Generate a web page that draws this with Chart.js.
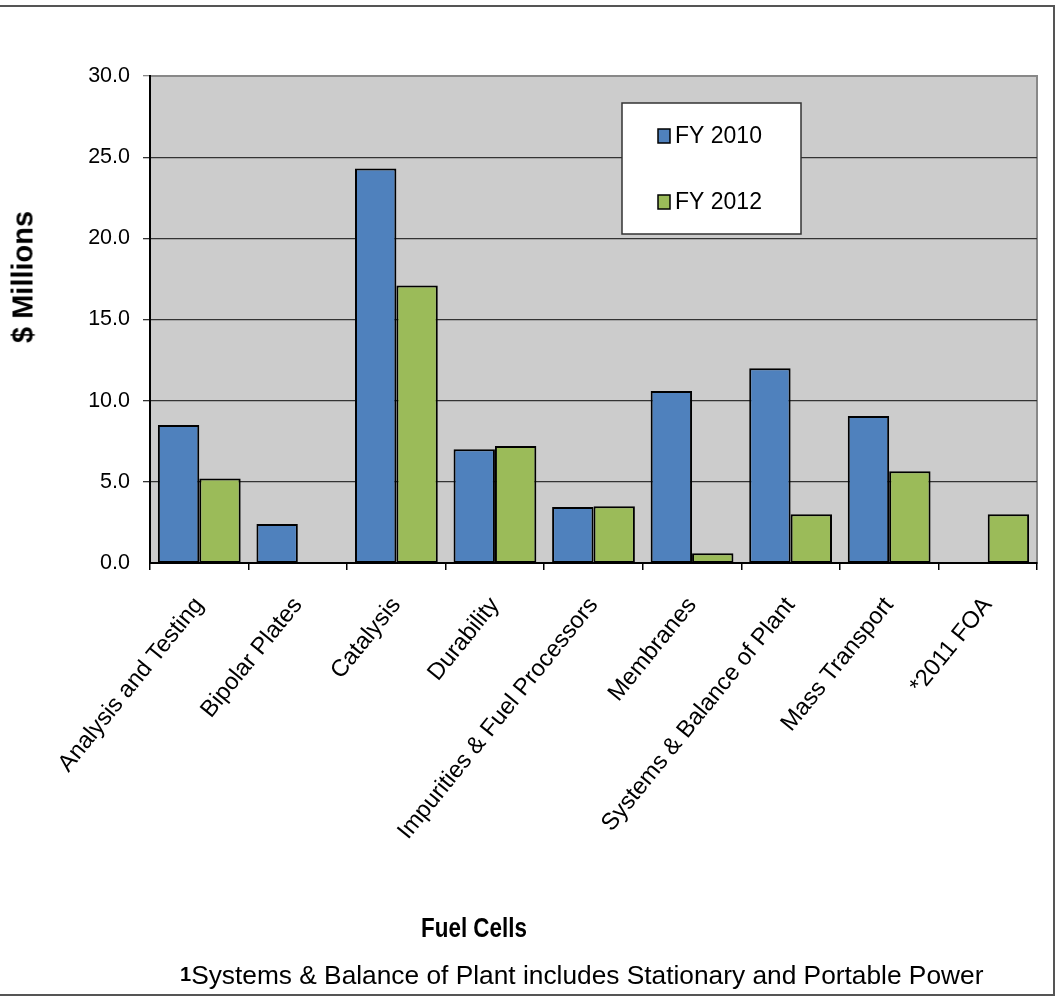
<!DOCTYPE html>
<html>
<head>
<meta charset="utf-8">
<script src="https://cdn.jsdelivr.net/npm/chart.js@4/dist/chart.umd.min.js"></script>
<style>
  html, body { margin: 0; padding: 0; background: #fff; overflow: hidden; }
  #stage {
    position: absolute; left: 0; top: 0; width: 1057px; height: 1000px;
    font-family: "Liberation Sans", Arial, sans-serif;
  }
  #frame {
    position: absolute; left: -4px; top: 5px; width: 1059px; height: 991px;
    border-top: 2px solid #555; border-right: 2px solid #555; border-bottom: 2px solid #555;
    box-sizing: border-box;
  }
  canvas { position: absolute; left: 0; top: 0; }
  .ytitle {
    position: absolute; left: 23px; top: 277px;
    transform: translate(-50%, -50%) rotate(-90deg);
    font-weight: bold; font-size: 29px; white-space: nowrap; color: #000;
  }
  /* condensed bold axis title */
  .xtitle {
    position: absolute; left: 474px; top: 928px;
    transform: translate(-50%, -50%) scaleX(0.83);
    font-weight: bold; font-size: 27px; white-space: nowrap; color: #000;
  }
  .note {
    position: absolute; left: 180px; top: 975px;
    transform: translateY(-50%);
    font-size: 26.3px; white-space: nowrap; color: #000;
  }
  .note b { font-size: 20px; vertical-align: 3px; }
</style>
</head>
<body>
<div id="stage">
  <div id="frame"></div>
  <canvas id="chart" width="1057" height="1000" style="width:1057px;height:1000px"></canvas>
  <div class="ytitle">$ Millions</div>
  <div class="xtitle">Fuel Cells</div>
  <div class="note"><b>1</b>Systems &amp; Balance of Plant includes Stationary and Portable Power</div>
</div>
<script>
// Fuel cell funding by topic ($ millions)
const categories = [
  'Analysis and Testing', 'Bipolar Plates', 'Catalysis', 'Durability',
  'Impurities & Fuel Processors', 'Membranes', 'Systems & Balance of Plant',
  'Mass Transport', '*2011 FOA'
];
const seriesNames = ['FY 2010', 'FY 2012'];
const fy2010 = [8.5, 2.4, 24.3, 7.0, 3.45, 10.6, 12.0, 9.05, null];
const fy2012 = [5.2, null, 17.1, 7.2, 3.5, 0.6, 3.0, 5.65, 3.0];
const yTicks = [0, 5, 10, 15, 20, 25, 30];

const colors = ['#4F81BD', '#9BBB59'];
const FONT = '"Liberation Sans", Arial, sans-serif';

// gray plot background with a thin frame
const plotBackground = {
  id: 'plotBackground',
  beforeDraw(chart) {
    const { ctx, chartArea: a } = chart;
    ctx.save();
    ctx.fillStyle = '#CCCCCC';
    ctx.fillRect(a.left, a.top, a.right - a.left, a.bottom - a.top);
    ctx.strokeStyle = '#888888';
    ctx.lineWidth = 2;
    ctx.strokeRect(a.left, a.top, a.right - a.left, a.bottom - a.top);
    ctx.restore();
  }
};

// boxed legend inside the plot area
const boxLegend = {
  id: 'boxLegend',
  afterDraw(chart, args, opts) {
    const { ctx } = chart;
    const { left, top, width, height, rowY, swatchX, swatchW, swatchH, textX, fontSize } = opts;
    ctx.save();
    ctx.fillStyle = '#FFFFFF';
    ctx.fillRect(left, top, width, height);
    ctx.strokeStyle = '#333333';
    ctx.lineWidth = 1.5;
    ctx.strokeRect(left, top, width, height);
    ctx.font = fontSize + 'px ' + FONT;
    ctx.textBaseline = 'middle';
    chart.data.datasets.forEach((ds, i) => {
      const y = top + rowY[i];
      ctx.fillStyle = ds.backgroundColor;
      ctx.fillRect(left + swatchX, y - swatchH / 2, swatchW, swatchH);
      ctx.strokeStyle = '#000';
      ctx.lineWidth = 1.5;
      ctx.strokeRect(left + swatchX, y - swatchH / 2, swatchW, swatchH);
      ctx.fillStyle = '#000';
      ctx.fillText(ds.label, left + textX, y + 1);
    });
    ctx.restore();
  }
};

new Chart(document.getElementById('chart'), {
  type: 'bar',
  data: {
    labels: categories,
    datasets: [
      { label: seriesNames[0], data: fy2010, backgroundColor: colors[0] },
      { label: seriesNames[1], data: fy2012, backgroundColor: colors[1] }
    ].map(d => Object.assign(d, {
      borderColor: '#000', borderWidth: 2, borderSkipped: false,
      categoryPercentage: 0.84, barPercentage: 1.0
    }))
  },
  options: {
    responsive: false,
    animation: false,
    layout: { padding: { left: 0, right: 20, top: 76, bottom: 0 } },
    plugins: {
      legend: { display: false },
      tooltip: { enabled: false },
      boxLegend: {
        left: 622, top: 103, width: 179, height: 131,
        rowY: [33, 99], swatchX: 36, swatchW: 12, swatchH: 14, textX: 53, fontSize: 23
      }
    },
    scales: {
      x: {
        grid: { offset: true, drawOnChartArea: false, drawTicks: true, tickLength: 7, color: '#000', lineWidth: 1.5 },
        border: { display: true, color: '#000', width: 2 },
        ticks: {
          autoSkip: false, minRotation: 51, maxRotation: 51, padding: 22,
          color: '#000', font: { family: FONT, size: 23.7 }
        },
        afterFit(scale) { scale.height = 437; }
      },
      y: {
        min: 0, max: 30,
        afterBuildTicks(scale) { scale.ticks = yTicks.map(v => ({ value: v })); },
        grid: {
          drawTicks: true, tickLength: 7,
          color: ctx => (ctx.tick && ctx.tick.value === 30 ? '#888888' : '#333333'),
          lineWidth: ctx => (ctx.tick && ctx.tick.value === 0 ? 0 : 1.3)
        },
        border: { display: true, color: '#000', width: 2 },
        ticks: {
          padding: 13, color: '#000',
          font: { family: FONT, size: 21.5 },
          callback: v => Number(v).toFixed(1)
        },
        afterFit(scale) { scale.width = 150; }
      }
    }
  },
  plugins: [plotBackground, boxLegend]
});
</script>
</body>
</html>
